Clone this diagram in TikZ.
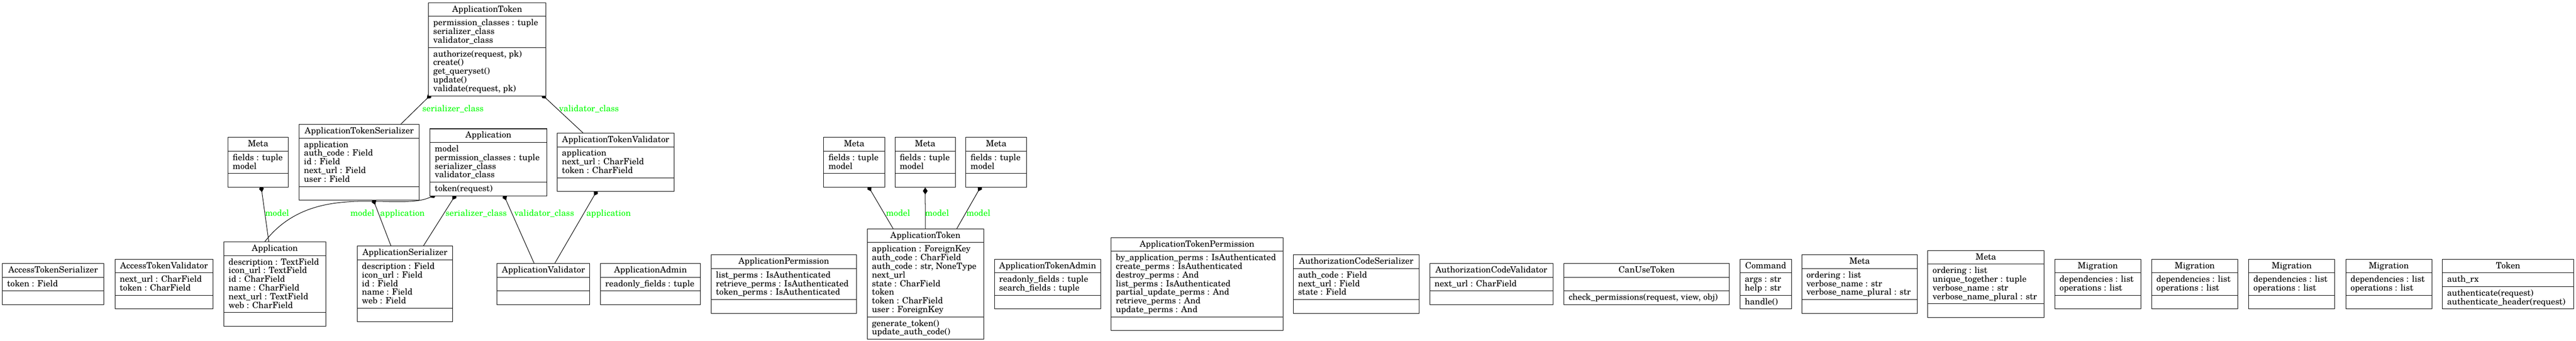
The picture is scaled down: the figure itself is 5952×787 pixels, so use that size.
\documentclass[tikz,border=0pt]{standalone}
\usepackage{fontspec}
\setmainfont{texgyreschola}[Extension=.otf, UprightFont=*-regular, BoldFont=*-bold, ItalicFont=*-italic, BoldItalicFont=*-bolditalic]
\usepackage{tikz}
\usetikzlibrary{arrows.meta}
\usetikzlibrary{shapes.multipart}

\pgfdeclarelayer{edges}
\pgfsetlayers{edges,main}

\newcommand{\cstrut}{\rule[-5pt]{0pt}{21pt}}
\newcommand{\umlfont}{\fontsize{20}{20}\selectfont\lineskiplimit=-20pt\relax}
\newcommand{\umlclass}[6]{\node[classbox, minimum width=#3pt] (#1) at (#2) {\cstrut #4\cstrut\nodepart{two}\cstrut #5\cstrut\nodepart{three}\cstrut #6\cstrut};}

\begin{document}
\begin{tikzpicture}[x=1pt, y=1pt]
\tikzset{font=\umlfont}
\tikzset{classbox/.style={draw, fill=white, line width=1.2pt, anchor=north west, rectangle split, rectangle split parts=3, rectangle split part align={center,left,left}, align=left, inner xsep=11pt, inner ysep=4.75pt}}
\tikzset{comp/.style={draw, line width=1.2pt, {Diamond[length=16pt, width=11pt]}-}}
\tikzset{role/.style={text=green, inner sep=0pt, anchor=base west}}
\useasboundingbox (0,0) rectangle (5952,-787);

% top rank
\umlclass{tokenview}{989.5,-5.75}{271}{ApplicationToken}{permission\_classes : tuple\\serializer\_class\\validator\_class}{authorize(request, pk)\\create()\\get\_queryset()\\update()\\validate(request, pk)}

% middle rank
\umlclass{meta1}{526,-317}{139.5}{Meta}{fields : tuple\\model}{}
\umlclass{tokenser}{690.7,-287}{277.5}{ApplicationTokenSerializer}{application\\auth\_code : Field\\id : Field\\next\_url : Field\\user : Field}{}
\umlclass{appview}{993,-297}{270}{Application}{model\\permission\_classes : tuple\\serializer\_class\\validator\_class}{token(request)}
\umlclass{tokenval}{1286.7,-307}{270.5}{ApplicationTokenValidator}{application\\next\_url : CharField\\token : CharField}{}
\umlclass{meta2}{1902.8,-317}{140.6}{Meta}{fields : tuple\\model}{}
\umlclass{meta3}{2067.3,-317}{139.7}{Meta}{fields : tuple\\model}{}
\umlclass{meta4}{2230.9,-317}{140.6}{Meta}{fields : tuple\\model}{}

% bottom rank
\umlclass{accser}{4.8,-608.25}{234.5}{AccessTokenSerializer}{token : Field}{}
\umlclass{accval}{265,-598.25}{226.7}{AccessTokenValidator}{next\_url : CharField\\token : CharField}{}
\umlclass{appmodel}{516.6,-558.25}{235.5}{Application}{description : TextField\\icon\_url : TextField\\id : CharField\\name : CharField\\next\_url : TextField\\web : CharField}{}
\umlclass{appser}{824.6,-568.25}{221}{ApplicationSerializer}{description : Field\\icon\_url : Field\\id : Field\\name : Field\\web : Field}{}
\umlclass{appval}{1148,-608.25}{213}{ApplicationValidator}{}{}
\umlclass{appadmin}{1387,-608.25}{230.7}{ApplicationAdmin}{readonly\_fields : tuple}{}
\umlclass{appperm}{1642.5,-588.25}{335.8}{ApplicationPermission}{list\_perms : IsAuthenticated\\retrieve\_perms : IsAuthenticated\\token\_perms : IsAuthenticated}{}
\umlclass{tokenmodel}{2003,-528.25}{269.2}{ApplicationToken}{application : ForeignKey\\auth\_code : CharField\\auth\_code : str, NoneType\\next\_url\\state : CharField\\token\\token : CharField\\user : ForeignKey}{generate\_token()\\update\_auth\_code()}
\umlclass{tokenadmin}{2297,-598.25}{246}{ApplicationTokenAdmin}{readonly\_fields : tuple\\search\_fields : tuple}{}
\umlclass{tokenperm}{2566.7,-548.25}{397}{ApplicationTokenPermission}{by\_application\_perms : IsAuthenticated\\create\_perms : IsAuthenticated\\destroy\_perms : And\\list\_perms : IsAuthenticated\\partial\_update\_perms : And\\retrieve\_perms : And\\update\_perms : And}{}
\umlclass{codeser}{2987.6,-588.25}{290.8}{AuthorizationCodeSerializer}{auth\_code : Field\\next\_url : Field\\state : Field}{}
\umlclass{codeval}{3303,-608.25}{284.4}{AuthorizationCodeValidator}{next\_url : CharField}{}
\umlclass{canuse}{3613,-608.25}{382}{CanUseToken}{}{check\_permissions(request, view, obj)}
\umlclass{command}{4019.8,-598.25}{118.6}{Command}{args : str\\help : str}{handle()}
\umlclass{meta5}{4162.3,-588.25}{267.7}{Meta}{ordering : list\\verbose\_name : str\\verbose\_name\_plural : str}{}
\umlclass{meta6}{4453.8,-578.25}{268.2}{Meta}{ordering : list\\unique\_together : tuple\\verbose\_name : str\\verbose\_name\_plural : str}{}
\umlclass{mig1}{4747,-598.25}{199}{Migration}{dependencies : list\\operations : list}{}
\umlclass{mig2}{4971,-598.25}{199}{Migration}{dependencies : list\\operations : list}{}
\umlclass{mig3}{5195,-598.25}{199}{Migration}{dependencies : list\\operations : list}{}
\umlclass{mig4}{5419.4,-598.25}{199}{Migration}{dependencies : list\\operations : list}{}
\umlclass{token}{5642.6,-598.25}{303.7}{Token}{auth\_rx}{authenticate(request)\\authenticate\_header(request)}

% compositions, drawn under the boxes
\begin{pgfonlayer}{edges}
\draw[comp] ([xshift=8pt, yshift=5pt]tokenview.south west) -- ([xshift=235.3pt]tokenser.north west);
\draw[comp] ([xshift=261pt, yshift=5pt]tokenview.south west) -- ([xshift=60.3pt]tokenval.north west);
\draw[comp] ([xshift=77pt, yshift=5pt]meta1.south west) -- ([xshift=104.4pt]appmodel.north west);
\draw[comp] ([xshift=15pt, yshift=4pt]appview.south west) to[out=205, in=52, out looseness=0.62, in looseness=1.15] ([xshift=95.4pt]appmodel.north west);
\draw[comp] ([xshift=170.5pt, yshift=5pt]tokenser.south west) -- ([xshift=78.7pt]appser.north west);
\draw[comp] ([xshift=61pt, yshift=5pt]appview.south west) -- ([xshift=153.7pt]appser.north west);
\draw[comp] ([xshift=170pt, yshift=5pt]appview.south west) -- ([xshift=86pt]appval.north west);
\draw[comp] ([xshift=94pt, yshift=5pt]tokenval.south west) -- ([xshift=134pt]appval.north west);
\draw[comp] ([xshift=102pt, yshift=5pt]meta2.south west) -- ([xshift=60.5pt]tokenmodel.north west);
\draw[comp] (meta3.south) -- (tokenmodel.north);
\draw[comp] ([xshift=37pt, yshift=5pt]meta4.south west) -- ([xshift=207.8pt]tokenmodel.north west);
\end{pgfonlayer}

% role names
\node[role] (r1) at (975.8,-258) {serializer\_class};
\node[role] (r2) at (1291.5,-258) {validator\_class};
\node[role] (r3) at (612.3,-499) {model};
\node[role] (r4) at (809.3,-499) {model};
\node[role] (r5) at (878.3,-499) {application};
\node[role] (r6) at (1029.3,-499) {serializer\_class};
\node[role] (r7) at (1188,-499) {validator\_class};
\node[role] (r8) at (1354.6,-499) {application};
\node[role] (r9) at (2047.2,-499) {model};
\node[role] (r10) at (2137.1,-499) {model};
\node[role] (r11) at (2232.8,-499) {model};
\end{tikzpicture}
\end{document}
